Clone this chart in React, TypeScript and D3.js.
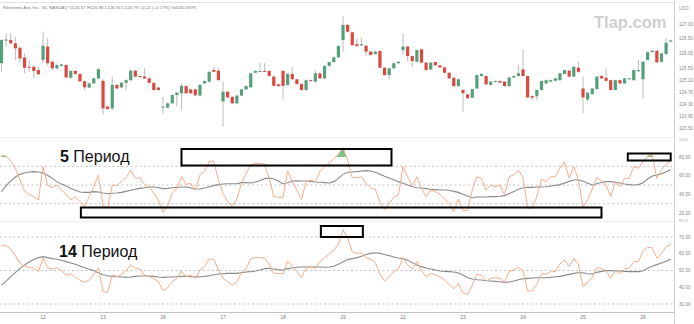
import React, { useEffect, useRef } from 'react';
import * as d3 from 'd3';

// x axis: day labels and the bar index where each day starts
const dayLabels = ["12", "13", "16", "17", "18", "19", "22", "23", "24", "25", "26"];
const dayFirstBar = [9, 22, 35, 48, 61, 74, 87, 100, 113, 126, 139];
const priceTicks = [127.0, 126.5, 126.0, 125.5, 125.1, 124.7, 124.3, 123.9, 123.5];
const rsi5Ticks = [80, 60, 40, 20];
const rsi14Ticks = [70, 60, 50, 40, 30];
const header = "Electronic Arts Inc., 30, NASDAQ  O126.57  H126.86  L126.56  C126.79  +0.22 (+0.17%)  Vol240.497K";

// 30 min candles
const open = [
  125.68, 126.45, 126.46, 126.35, 126.20, 125.87, 125.56, 125.56, 125.45, 125.79,
  126.24, 125.73, 125.51, 125.59, 125.62, 125.19, 125.42, 125.32, 125.07, 124.86,
  125.00, 125.17, 125.09, 124.22, 124.16, 124.95, 124.87, 125.02, 125.11, 125.43,
  125.25, 125.23, 125.17, 125.02, 124.86, 124.19, 124.19, 124.33, 124.61, 124.67,
  124.91, 124.80, 124.80, 124.59, 125.00, 125.06, 125.45, 125.43, 124.39, 124.72,
  124.55, 124.33, 124.59, 124.80, 124.87, 125.36, 125.40, 125.42, 125.42, 125.23,
  124.97, 125.42, 124.95, 125.32, 125.14, 124.98, 124.78, 125.11, 125.06, 125.34,
  125.17, 125.59, 125.72, 125.88, 126.46, 126.97, 126.72, 126.32, 126.28, 126.27,
  126.07, 125.99, 126.09, 125.53, 125.28, 125.51, 125.68, 126.12, 126.24, 125.92,
  125.73, 126.15, 125.70, 125.47, 125.72, 125.61, 125.54, 125.36, 125.19, 124.91,
  124.78, 124.63, 124.52, 124.83, 125.25, 125.25, 124.95, 125.06, 125.08, 125.06,
  124.91, 125.20, 125.25, 125.47, 125.25, 124.57, 124.57, 124.78, 125.00, 125.06,
  125.09, 125.11, 125.32, 125.43, 125.23, 125.53, 124.83, 124.46, 124.64, 124.81,
  125.25, 125.19, 125.11, 124.78, 125.11, 125.00, 125.15, 125.11, 125.41, 125.14,
  125.79, 126.06, 126.10, 125.73, 125.99, 126.41
];
const close = [
  126.46, 126.48, 126.35, 126.18, 125.84, 125.53, 125.54, 125.42, 125.31, 126.27,
  125.68, 125.51, 125.62, 125.64, 125.20, 125.42, 125.32, 125.07, 124.87, 125.00,
  125.17, 125.48, 124.16, 124.14, 124.95, 124.83, 125.02, 125.11, 125.43, 125.23,
  125.22, 125.17, 125.02, 124.78, 124.78, 124.22, 124.33, 124.61, 124.69, 124.92,
  124.67, 124.67, 124.60, 124.95, 125.08, 125.39, 125.39, 125.11, 124.72, 124.53,
  124.33, 124.59, 124.80, 124.91, 125.34, 125.42, 125.42, 125.41, 125.25, 124.92,
  124.91, 124.92, 125.32, 125.14, 124.98, 124.78, 125.11, 125.08, 125.34, 125.17,
  125.59, 125.72, 125.88, 126.26, 126.97, 126.74, 126.29, 126.26, 126.32, 126.07,
  125.96, 126.07, 125.53, 125.28, 125.51, 125.68, 125.73, 126.24, 125.92, 125.75,
  126.12, 125.70, 125.45, 125.70, 125.61, 125.54, 125.36, 125.17, 124.91, 125.14,
  124.67, 124.50, 124.81, 125.28, 125.32, 124.97, 125.06, 125.08, 125.03, 124.91,
  125.20, 125.25, 125.34, 125.25, 124.53, 124.52, 124.78, 125.08, 125.11, 125.11,
  125.17, 125.34, 125.45, 125.23, 125.56, 125.39, 124.53, 124.69, 124.83, 125.23,
  125.17, 125.09, 124.78, 125.11, 125.00, 125.17, 125.17, 125.45, 125.45, 125.73,
  126.05, 126.10, 125.71, 126.01, 126.37, 126.45
];
const high = [
  126.48, 126.69, 126.71, 126.57, 126.24, 126.01, 125.79, 125.62, 125.56, 126.74,
  126.52, 125.79, 125.68, 125.66, 125.64, 125.45, 125.44, 125.34, 125.10, 125.03,
  125.20, 125.51, 125.14, 124.25, 125.23, 124.97, 125.06, 125.14, 125.46, 125.45,
  125.27, 125.51, 125.19, 125.04, 124.88, 124.55, 124.36, 124.64, 124.72, 125.00,
  124.93, 124.83, 124.83, 124.98, 125.10, 125.42, 125.56, 125.51, 125.06, 124.75,
  124.57, 124.62, 124.82, 124.93, 125.36, 125.44, 125.70, 125.68, 125.45, 125.26,
  124.99, 125.45, 125.35, 125.56, 125.16, 125.00, 125.14, 125.13, 125.45, 125.36,
  125.61, 125.74, 125.90, 126.28, 127.27, 127.00, 126.75, 126.52, 126.52, 126.30,
  126.09, 126.09, 126.11, 125.55, 125.53, 125.70, 125.75, 126.69, 126.26, 125.94,
  126.14, 126.17, 125.72, 125.72, 125.74, 125.63, 125.56, 125.38, 125.21, 125.16,
  124.80, 124.65, 124.83, 125.31, 125.34, 125.27, 125.08, 125.10, 125.10, 125.08,
  125.22, 125.27, 125.62, 126.15, 125.27, 124.60, 124.80, 125.10, 125.13, 125.13,
  125.19, 125.36, 125.47, 125.45, 125.58, 125.73, 125.23, 124.71, 124.85, 125.25,
  125.27, 125.51, 125.13, 125.13, 125.13, 125.19, 125.19, 125.47, 125.79, 125.75,
  126.07, 126.12, 126.12, 126.03, 126.52, 126.47
];
const low = [
  125.39, 126.24, 126.30, 125.79, 125.68, 125.34, 125.39, 125.17, 125.28, 125.68,
  125.62, 125.45, 125.45, 125.56, 125.17, 125.17, 125.30, 125.04, 124.78, 124.83,
  124.98, 125.14, 123.94, 124.10, 124.10, 124.80, 124.84, 124.78, 125.08, 125.20,
  125.19, 125.15, 125.00, 124.75, 124.75, 123.99, 124.15, 124.30, 124.22, 124.10,
  124.64, 124.64, 124.57, 124.56, 124.98, 125.03, 125.37, 125.09, 123.54, 124.50,
  124.30, 124.30, 124.57, 124.78, 124.85, 125.34, 125.38, 125.38, 125.22, 124.90,
  124.89, 124.46, 124.92, 125.12, 124.96, 124.75, 124.75, 125.06, 125.03, 125.15,
  125.14, 125.57, 125.70, 125.86, 126.07, 126.72, 126.24, 126.24, 126.26, 125.92,
  125.94, 125.97, 125.51, 125.26, 125.14, 125.49, 125.66, 125.96, 125.73, 125.56,
  125.71, 125.68, 125.43, 125.45, 125.59, 125.52, 125.34, 125.15, 124.89, 124.89,
  124.05, 124.48, 124.50, 124.81, 125.23, 124.95, 124.93, 125.04, 125.01, 124.89,
  124.89, 125.18, 125.23, 125.23, 124.50, 124.44, 124.44, 124.75, 124.98, 125.04,
  125.07, 125.09, 125.30, 125.21, 125.21, 125.37, 123.99, 124.39, 124.62, 124.79,
  125.15, 125.07, 124.76, 124.76, 124.98, 124.98, 125.13, 125.09, 125.39, 124.49,
  125.77, 126.04, 125.69, 125.71, 125.97, 126.39
];

// 5 period oscillator and its average
const rsi5 = [
  82, 81, 75.7, 67.9, 55.4, 43.6, 40, 37.5, 33.9, 69.6,
  50, 47.1, 50, 44.6, 40, 33.9, 37.5, 32.1, 27.5, 37.5,
  48.2, 60.7, 27.9, 25.7, 50, 49.3, 53.6, 57.9, 66.1, 57.1,
  57.9, 50.7, 48.2, 41.1, 33.9, 20.7, 27.9, 41.1, 46.4, 58.9,
  50.7, 51.8, 44.6, 60.7, 65, 75, 75.7, 55.4, 41.1, 32.1,
  27.5, 35, 51.8, 62.5, 71.4, 73.2, 73.2, 72.1, 57.1, 37.5,
  36.8, 36.8, 65, 53.6, 44.6, 34.6, 53.6, 55.4, 53.6, 64.3,
  69.6, 73.2, 77.9, 82.9, 90, 76.8, 57.9, 57.9, 58.9, 51.8,
  46.4, 45.4, 32.1, 23.2, 30.4, 36.8, 39.3, 69.6, 58.9, 49.3,
  58.9, 46.4, 37.5, 44.6, 42.9, 40, 35, 30.4, 21.4, 35,
  22.1, 23.2, 44.6, 58.9, 57.1, 44.6, 50, 48.2, 50, 39.3,
  58.9, 60.7, 66.1, 57.9, 25, 25.7, 37.5, 56.4, 53.6, 58.9,
  58.9, 67.9, 75, 57.1, 69.6, 55.4, 26.8, 33.9, 45.7, 57.9,
  54.3, 50, 37.5, 53.6, 48.2, 57.1, 57.1, 69.6, 67.9, 75,
  81.4, 82.1, 57.1, 66.1, 72.1, 75.7
];
const rsi5Avg = [
  42.9, 49.3, 54.3, 58.6, 61.4, 62.9, 63.9, 64.3, 63.9, 62.9,
  60.4, 57.1, 53.6, 51.1, 48.9, 46.4, 44.3, 42.5, 42.1, 42.1,
  42.9, 42.5, 41.4, 40.7, 41.1, 41.4, 42.1, 43.2, 44.3, 45.4,
  46.4, 47.1, 47.9, 47.9, 47.1, 46.1, 46.4, 47.1, 47.5, 47.9,
  47.9, 46.8, 45.4, 45.7, 46.8, 48.2, 49.3, 50.4, 51.1, 51.4,
  51.4, 51.4, 52.5, 52.5, 52.1, 53.2, 54.6, 56.8, 57.5, 56.4,
  54.3, 51.1, 52.5, 54.3, 54.6, 54.3, 54.3, 53.9, 53.2, 52.9,
  52.5, 52.1, 53.6, 57.1, 61.4, 63.6, 63.9, 64.3, 65, 65.4,
  65, 63.6, 61.4, 59.3, 57.5, 55.7, 53.6, 51.8, 50, 48.2,
  47.1, 46.8, 46.1, 45.4, 45, 44.6, 44.6, 44.3, 43.2, 42.1,
  40, 37.9, 36.4, 37.1, 37.1, 37.1, 37.5, 37.5, 37.9, 38.6,
  40.7, 42.9, 45.4, 47.1, 47.5, 47.5, 47.9, 47.9, 48.2, 48.9,
  49.6, 50.4, 52.1, 53.9, 55.4, 55.4, 54.3, 51.8, 50, 51.4,
  52.9, 53.6, 53.6, 52.9, 52.1, 51.1, 50.4, 50, 50.4, 52.5,
  56.4, 59.6, 60.7, 62.1, 64.3, 66.4
];

// 14 period oscillator and its average
const rsi14 = [
  65.2, 64.8, 62.8, 58.9, 54.3, 52.7, 51.9, 51.3, 49.3, 57.3,
  51.7, 50.7, 51.7, 49.9, 47.3, 48.1, 45.9, 44.3, 42.9, 44.3,
  47.7, 51.7, 37.4, 37.0, 47.3, 46.3, 47.7, 49.7, 53.3, 51.3,
  50.9, 47.3, 46.3, 45.3, 43.3, 37.8, 39.8, 43.3, 45.3, 49.7,
  46.3, 47.3, 45.3, 50.3, 52.3, 56.9, 56.7, 50.3, 45.3, 43.3,
  41.3, 43.3, 48.9, 50.9, 56.9, 57.7, 57.7, 57.3, 53.7, 48.3,
  48.1, 48.1, 55.7, 52.7, 49.3, 45.9, 51.3, 52.5, 51.3, 55.3,
  57.7, 59.7, 62.2, 65.6, 74.4, 69.2, 61.2, 60.2, 60.6, 57.7,
  56.7, 54.9, 47.7, 43.7, 46.3, 49.3, 50.7, 57.7, 53.3, 50.9,
  55.3, 49.7, 46.3, 48.3, 47.3, 46.3, 44.3, 41.7, 39.0, 42.3,
  36.4, 35.8, 41.3, 47.7, 47.3, 43.7, 45.3, 45.7, 45.3, 42.9,
  49.3, 50.3, 51.9, 49.9, 37.8, 37.8, 41.9, 48.1, 47.7, 49.3,
  49.3, 53.9, 56.3, 52.3, 57.3, 53.7, 40.3, 42.9, 45.9, 51.7,
  51.3, 49.7, 45.3, 50.1, 48.1, 51.1, 51.3, 55.3, 55.3, 61.6,
  63.8, 63.6, 57.3, 60.2, 64.2, 65.6
];
const rsi14Avg = [
  41.3, 43.7, 46.3, 48.7, 51.3, 53.3, 55.1, 56.5, 57.7, 58.3,
  57.7, 57.1, 56.7, 56.1, 55.3, 54.5, 53.7, 52.7, 51.7, 50.7,
  49.9, 48.7, 47.5, 46.9, 46.5, 46.3, 46.1, 45.9, 46.1, 46.5,
  46.7, 46.7, 46.7, 46.5, 46.1, 45.9, 46.1, 46.1, 46.3, 46.5,
  46.5, 46.3, 46.1, 46.3, 46.5, 46.9, 47.5, 47.9, 48.1, 48.3,
  48.3, 48.3, 48.7, 49.1, 49.3, 49.7, 50.3, 51.1, 51.3, 50.9,
  50.5, 50.3, 51.1, 51.5, 51.9, 52.1, 52.1, 52.1, 52.1, 52.1,
  51.9, 52.1, 52.5, 53.7, 55.3, 56.5, 57.1, 57.7, 58.5, 59.5,
  60.2, 60.6, 60.2, 59.5, 58.9, 58.1, 57.5, 57.1, 56.1, 54.7,
  53.3, 52.3, 51.5, 50.9, 50.3, 49.7, 49.5, 49.3, 49.1, 48.5,
  47.3, 45.7, 44.9, 44.5, 44.3, 43.9, 43.7, 43.5, 43.3, 42.9,
  43.1, 43.7, 44.5, 45.1, 45.3, 45.5, 45.7, 45.7, 45.7, 45.9,
  46.3, 46.5, 47.1, 47.7, 48.3, 48.7, 48.7, 48.1, 47.9, 48.9,
  49.5, 49.9, 49.9, 49.7, 49.7, 49.5, 49.3, 49.3, 49.3, 49.9,
  51.3, 52.5, 53.5, 54.5, 55.5, 56.7
];

const App = () => {
  const ref = useRef<SVGSVGElement>(null);

  useEffect(() => {
    const svg = d3.select(ref.current);
    svg.selectAll("*").remove();

    const W = 694, H = 324;
    const axisX = 674;
    const font = "'Liberation Sans', Arial, sans-serif";

    const x = d3.scaleLinear().domain([0, open.length - 1]).range([1.5, 670.7]);
    const yPrice = d3.scaleLinear().domain([123.5, 127]).range([128, 24]);
    const y5 = d3.scaleLinear().domain([20, 80]).range([213, 157]);
    const y14 = d3.scaleLinear().domain([30, 70]).range([304, 237]);

    svg.append("rect").attr("width", W).attr("height", H).attr("fill", "#fff");

    // frame lines
    const hLine = (y, color) => svg.append("line")
      .attr("x1", 0).attr("x2", axisX).attr("y1", y).attr("y2", y)
      .attr("stroke", color).attr("stroke-width", 1);
    hLine(2.5, "#e2e2e2");
    hLine(137.5, "#ededed");
    hLine(221.5, "#ededed");
    hLine(312.5, "#c4c4c4");
    svg.append("line")
      .attr("x1", axisX + 0.5).attr("x2", axisX + 0.5).attr("y1", 0).attr("y2", H)
      .attr("stroke", "#cfcfcf");

    // header
    svg.append("text").attr("x", 3).attr("y", 9)
      .attr("font-family", font).attr("font-size", 4.4).attr("fill", "#777")
      .text(header);

    // watermark
    svg.append("text").attr("x", 594).attr("y", 28)
      .attr("font-family", font).attr("font-size", 16.5).attr("font-weight", "bold")
      .attr("fill", "#cfcfcf").text("Tlap.com");

    // candles
    const idx = d3.range(open.length);
    const candles = svg.append("g");
    candles.selectAll("line").data(idx).enter().append("line")
      .attr("x1", i => x(i)).attr("x2", i => x(i))
      .attr("y1", i => yPrice(high[i])).attr("y2", i => yPrice(low[i]))
      .attr("stroke", "#b4b4b4").attr("stroke-width", 0.9);
    candles.selectAll("rect").data(idx).enter().append("rect")
      .attr("x", i => x(i) - 1.6)
      .attr("width", 3.2)
      .attr("y", i => Math.min(yPrice(open[i]), yPrice(close[i])))
      .attr("height", i => Math.max(1, Math.abs(yPrice(open[i]) - yPrice(close[i]))))
      .attr("fill", i => close[i] >= open[i] ? "#55a07a" : "#d8493f");

    // price axis labels
    svg.append("text").attr("x", 679).attr("y", 8).attr("dy", "0.35em")
      .attr("font-family", font).attr("font-size", 4.6).attr("fill", "#999").text("USD");
    svg.append("g").selectAll("text").data(priceTicks).enter().append("text")
      .attr("x", 679).attr("y", d => yPrice(d)).attr("dy", "0.35em")
      .attr("font-family", font).attr("font-size", 4.6).attr("fill", "#888")
      .text(d => d.toFixed(2));

    // dashed levels
    const dashed = (y) => svg.append("line")
      .attr("x1", 0).attr("x2", axisX).attr("y1", y).attr("y2", y)
      .attr("stroke", "#c4c4c4").attr("stroke-dasharray", "2,2.5");
    [70, 50, 30].forEach(v => dashed(y5(v)));
    [70, 50, 30].forEach(v => dashed(y14(v)));

    // oscillator axis labels
    svg.append("g").selectAll("text").data(rsi5Ticks).enter().append("text")
      .attr("x", 679).attr("y", d => y5(d)).attr("dy", "0.35em")
      .attr("font-family", font).attr("font-size", 4.6).attr("fill", "#888")
      .text(d => d.toFixed(2));
    svg.append("g").selectAll("text").data(rsi14Ticks).enter().append("text")
      .attr("x", 679).attr("y", d => y14(d)).attr("dy", "0.35em")
      .attr("font-family", font).attr("font-size", 4.6).attr("fill", "#888")
      .text(d => d.toFixed(2));
    svg.append("text").attr("x", 679).attr("y", 139.5).attr("dy", "0.35em")
      .attr("font-family", font).attr("font-size", 3).attr("fill", "#aaa").text("100.00");
    svg.append("text").attr("x", 679).attr("y", 220.5).attr("dy", "0.35em")
      .attr("font-family", font).attr("font-size", 3).attr("fill", "#aaa").text("RSI 14");

    // overbought fill on the 5 period pane
    svg.append("clipPath").attr("id", "ob5").append("rect")
      .attr("x", 0).attr("y", 138).attr("width", axisX).attr("height", y5(80) - 138);
    const grad = svg.append("defs").append("linearGradient").attr("id", "obGrad")
      .attr("x1", 0).attr("x2", 0).attr("y1", 0).attr("y2", 1);
    grad.append("stop").attr("offset", "0%").attr("stop-color", "#6cc07a");
    grad.append("stop").attr("offset", "100%").attr("stop-color", "#d4eed8");
    const obArea = d3.area<number>()
      .x((d, i) => x(i)).y0(y5(80)).y1(d => y5(d));
    svg.append("path").datum(rsi5).attr("d", obArea)
      .attr("fill", "url(#obGrad)").attr("clip-path", "url(#ob5)");

    // lines
    const orange = "#f5ad8a";
    const line5 = d3.line<number>().x((d, i) => x(i)).y(d => y5(d));
    const line14 = d3.line<number>().x((d, i) => x(i)).y(d => y14(d));
    svg.append("path").datum(rsi5Avg).attr("d", line5)
      .attr("fill", "none").attr("stroke", "#8a8a8a").attr("stroke-width", 1.1);
    svg.append("path").datum(rsi5).attr("d", line5)
      .attr("fill", "none").attr("stroke", orange).attr("stroke-width", 1);
    svg.append("path").datum(rsi14Avg).attr("d", line14)
      .attr("fill", "none").attr("stroke", "#8a8a8a").attr("stroke-width", 1.1);
    svg.append("path").datum(rsi14).attr("d", line14)
      .attr("fill", "none").attr("stroke", orange).attr("stroke-width", 1);

    // x axis labels
    svg.append("g").selectAll("text").data(dayLabels).enter().append("text")
      .attr("x", (d, i) => x(dayFirstBar[i])).attr("y", 319)
      .attr("text-anchor", "middle")
      .attr("font-family", font).attr("font-size", 5).attr("fill", "#777")
      .text(d => d);

    // annotation boxes
    const box = (x0, y0, x1, y1) => svg.append("rect")
      .attr("x", x0).attr("y", y0).attr("width", x1 - x0).attr("height", y1 - y0)
      .attr("fill", "none").attr("stroke", "#000").attr("stroke-width", 2);
    box(x(39), 149, x(84.5), 165.5);
    box(x(135.7), 153.5, x(145), 160.5);
    box(x(17.2), 207.5, x(130), 217.5);
    box(x(69.2), 226, x(78.3), 237);

    // period captions
    const caption = (px, py, num) => {
      const t = svg.append("text").attr("x", px).attr("y", py)
        .attr("font-family", font).attr("font-size", 16).attr("fill", "#111");
      t.append("tspan").attr("font-weight", "bold").text(num);
      t.append("tspan").text(" Период");
    };
    caption(60, 162, "5");
    caption(59, 256.5, "14");
  }, []);

  return (
    <svg ref={ref} width={694} height={324}
      style={{ position: "absolute", left: 0, top: 0, display: "block" }} />
  );
};

export default App;
